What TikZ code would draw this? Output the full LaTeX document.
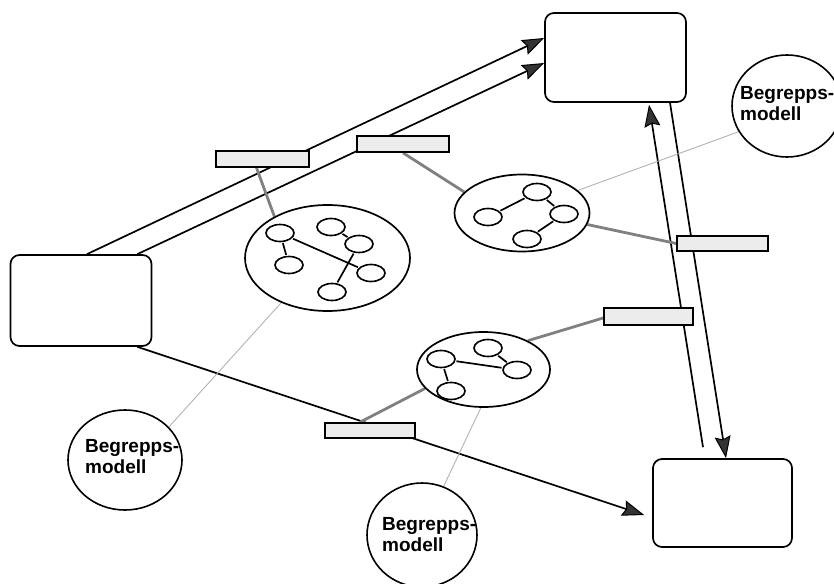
\documentclass[tikz,border=0pt]{standalone}
\usepackage{fontspec}
\newfontfamily\labfont{Liberation Sans}
\usetikzlibrary{shapes.geometric,arrows.meta}
\pgfdeclarelayer{background}
\pgfsetlayers{background,main}

\begin{document}
\begin{tikzpicture}[x=1pt,y=-1pt,
  box/.style={draw=black, line width=1.7pt, rounded corners=9pt, inner sep=0pt},
  cluster/.style={ellipse, draw=black, line width=1.7pt, inner sep=0pt, fill=white},
  concept/.style={ellipse, draw=black, line width=1.6pt, inner sep=0pt,
    minimum width=28pt, minimum height=17pt},
  tie/.style={line width=1.7pt, shorten <=1pt, shorten >=1pt},
  tag/.style={draw=black, line width=1.7pt, fill=gray!15, inner sep=0pt},
  model/.style={ellipse, draw=black, line width=1.6pt, inner sep=0pt, fill=white},
  modeltext/.style={font=\labfont\bfseries\fontsize{19}{21}\selectfont,
    align=left, anchor=base west, inner sep=0pt},
  flow/.style={line width=1.7pt,
    -{Stealth[length=22pt,width=16pt,inset=3pt,fill=black!80,line width=1pt]}},
  link/.style={draw=black!50, line width=2.8pt},
  hint/.style={draw=gray!60, line width=0.9pt}]

\clip (0,0) rectangle (834,583);

% main boxes
\node[box, minimum width=141pt, minimum height=91pt] (A) at (81,300.5) {};
\node[box, minimum width=141pt, minimum height=89pt] (B) at (615.5,57.5) {};
\node[box, minimum width=139pt, minimum height=88pt] (C) at (722.5,503) {};

% concept clusters
\node[cluster, minimum width=165pt, minimum height=106pt] (E1) at (327.5,258) {};
\node[cluster, minimum width=135pt, minimum height=77pt] (E2) at (522,213) {};
\node[cluster, minimum width=133pt, minimum height=75pt] (E3) at (483.5,369.5) {};

% concepts inside the first cluster
\node[concept] (E1a) at (280,233) {};
\node[concept] (E1b) at (331,227) {};
\node[concept] (E1c) at (359,244) {};
\node[concept] (E1d) at (289,265) {};
\node[concept] (E1e) at (371,273) {};
\node[concept] (E1f) at (332,292) {};
\draw[tie] (E1a) -- (E1e);
\draw[tie] (E1a) -- (E1d);
\draw[tie] (E1b) -- (E1c);
\draw[tie] (E1c) -- (E1f);

% concepts inside the second cluster
\node[concept] (E2a) at (488,217) {};
\node[concept] (E2b) at (537,192) {};
\node[concept] (E2c) at (564,214) {};
\node[concept] (E2d) at (527,239) {};
\draw[tie] (E2a) -- (E2b);
\draw[tie] (E2b) -- (E2c);
\draw[tie] (E2c) -- (E2d);

% concepts inside the third cluster
\node[concept] (E3a) at (441,359) {};
\node[concept] (E3b) at (488,348) {};
\node[concept] (E3c) at (517,370) {};
\node[concept] (E3d) at (451,391) {};
\draw[tie] (E3a) -- (E3c);
\draw[tie] (E3b) -- (E3c);
\draw[tie] (E3a) -- (E3d);

% tags on the flows
\node[tag, minimum width=93pt, minimum height=16pt] (L1) at (262.5,159) {};
\node[tag, minimum width=92pt, minimum height=16pt] (L2) at (403,144) {};
\node[tag, minimum width=91pt, minimum height=15pt] (L3) at (722.5,243.5) {};
\node[tag, minimum width=89pt, minimum height=17pt] (L4) at (648.5,316.5) {};
\node[tag, minimum width=90pt, minimum height=15pt] (L5) at (370,430.5) {};

% concept models
\node[model, minimum width=110pt, minimum height=102pt] (M1) at (787,106) {};
\node[model, minimum width=114pt, minimum height=100pt] (M2) at (125,460) {};
\node[model, minimum width=110pt, minimum height=104pt] (M3) at (422,535) {};
\node[modeltext] (M1t) at ([xshift=-47pt,yshift=-15pt]M1.center) {Begrepps-\\modell};
\node[modeltext] (M2t) at ([xshift=-40pt,yshift=-13pt]M2.center) {Begrepps-\\modell};
\node[modeltext] (M3t) at ([xshift=-40pt,yshift=-16pt]M3.center) {Begrepps-\\modell};

\begin{pgfonlayer}{background}
  % flows between the boxes
  \draw[flow] ([xshift=6pt]A.north) -- ([yshift=19.5pt]B.west);
  \draw[flow] ([xshift=-15pt]A.north east) -- ([yshift=-5.5pt]B.west);
  \draw[flow] ([xshift=-15pt]A.south east) -- ([xshift=-8pt,yshift=-12pt]C.west);
  \draw[flow] ([xshift=-19.5pt,yshift=11pt]C.north) -- ([xshift=33.5pt,yshift=-2pt]B.south);
  \draw[flow] ([xshift=54.5pt]B.south) -- ([xshift=3.5pt]C.north);

  % tags attached to clusters
  \draw[link] ([xshift=-6pt]L1.south) -- (E1.142);
  \draw[link] (L2.south) -- (E2.160);
  \draw[link] (E2.-10) -- (L3.west);
  \draw[link] (E3.33) -- ([yshift=-1.5pt]L4.west);
  \draw[link] (E3.198) -- ([xshift=-10pt]L5.north);

  % models describing clusters
  \draw[hint] (M1.208) -- (E2.22);
  \draw[hint] (M2.37) -- (E1.224);
  \draw[hint] (M3.66) -- (E3.266);
\end{pgfonlayer}
\end{tikzpicture}
\end{document}
